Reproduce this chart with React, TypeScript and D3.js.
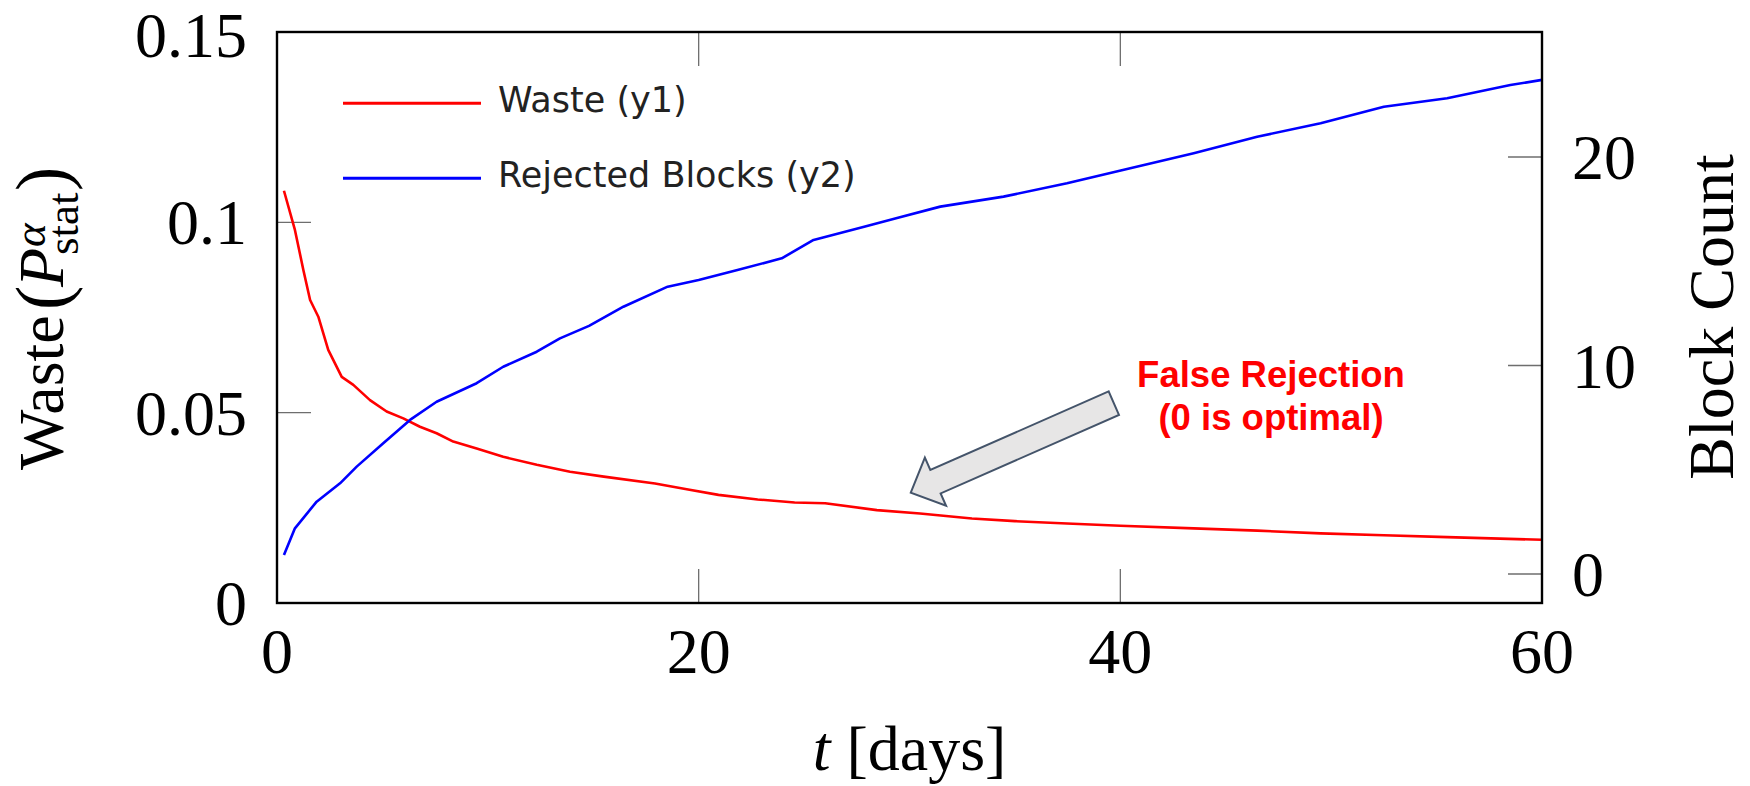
import { scaleLinear, line } from "d3";

const width = 1750;
const height = 786;
const margin = { left: 277, right: 208, top: 32, bottom: 183 };

// Waste (left axis)
const wasteDays = [
  0.33, 0.85, 1.25, 1.57, 1.96, 2.43, 3.07, 3.62, 4.41, 5.2, 5.99, 6.78, 7.57,
  8.36, 9.47, 10.73, 12.32, 13.9, 15.5, 17.93, 19.5, 20.94, 22.8, 24.55, 26,
  28.45, 30.5, 32.96, 35, 37.47, 40, 43.48, 46.5, 49.5, 52.5, 55.5, 58, 60,
];
const wasteValues = [
  0.1083, 0.098, 0.0875, 0.0796, 0.0752, 0.0665, 0.0594, 0.0573, 0.0533,
  0.0503, 0.0485, 0.0463, 0.0446, 0.0424, 0.0406, 0.0384, 0.0363, 0.0345,
  0.0332, 0.0314, 0.0298, 0.0284, 0.0272, 0.0264, 0.0262, 0.0244, 0.0235,
  0.0222, 0.0215, 0.0209, 0.0203, 0.0196, 0.019, 0.0183, 0.0178, 0.0173,
  0.0169, 0.0166,
];

// Rejected blocks (right axis)
const blockDays = [
  0.33, 0.85, 1.88, 2.99, 3.78, 5.04, 6.31, 7.57, 9.47, 10.73, 12.32, 13.42,
  14.8, 16.43, 18.53, 20, 21.84, 23.94, 25.45, 27.85, 29.5, 31.46, 34.46,
  37.47, 40.47, 43.48, 46.49, 49.5, 52.5, 55.5, 58.5, 60,
];
const blockValues = [
  0.91, 2.19, 3.47, 4.35, 5.15, 6.27, 7.39, 8.26, 9.15, 9.94, 10.66, 11.3,
  11.9, 12.82, 13.78, 14.1, 14.58, 15.14, 16.02, 16.66, 17.1, 17.62, 18.1,
  18.74, 19.46, 20.18, 20.97, 21.62, 22.41, 22.82, 23.45, 23.7,
];

const xTicks = [0, 20, 40, 60];
const xTickLabels = ["0", "20", "40", "60"];
const leftTicks = [0, 0.05, 0.1, 0.15];
const leftTickLabels = ["0", "0.05", "0.1", "0.15"];
const rightTicks = [0, 10, 20];
const rightTickLabels = ["0", "10", "20"];

const legendLabels = ["Waste (y1)", "Rejected Blocks (y2)"];
const seriesColors = ["#ff0000", "#0000ff"];

// arrow annotation, in (days, waste) coordinates
const arrowTail = [39.69, 0.0525];
const arrowTip = [30.06, 0.029];
const noteLines = ["False Rejection", "(0 is optimal)"];

const serif = "'Liberation Serif', 'Times New Roman', serif";
const sans = "'DejaVu Sans', sans-serif";

const App = () => {
  const plotW = width - margin.left - margin.right;
  const plotH = height - margin.top - margin.bottom;
  const x = scaleLinear().domain([0, 60]).range([margin.left, margin.left + plotW]);
  const yL = scaleLinear().domain([0, 0.15]).range([margin.top + plotH, margin.top]);
  const yR = scaleLinear().domain([0, 20]).range([574, 157]);

  const wasteLine = line<number>()
    .x((d, i) => x(wasteDays[i]))
    .y((d) => yL(d));
  const blockLine = line<number>()
    .x((d, i) => x(blockDays[i]))
    .y((d) => yR(d));

  // block arrow
  const tx = x(arrowTail[0]);
  const ty = yL(arrowTail[1]);
  const px = x(arrowTip[0]);
  const py = yL(arrowTip[1]);
  const len = Math.hypot(px - tx, py - ty);
  const ux = (px - tx) / len;
  const uy = (py - ty) / len;
  const nx = -uy;
  const ny = ux;
  const shaftW = 12.8;
  const headW = 26.3;
  const headL = 27;
  const bx = px - ux * headL;
  const by = py - uy * headL;
  const arrowPts = [
    [tx + nx * shaftW, ty + ny * shaftW],
    [bx + nx * shaftW, by + ny * shaftW],
    [bx + nx * headW, by + ny * headW],
    [px, py],
    [bx - nx * headW, by - ny * headW],
    [bx - nx * shaftW, by - ny * shaftW],
    [tx - nx * shaftW, ty - ny * shaftW],
  ]
    .map((p) => p.join(","))
    .join(" ");

  const tickColor = "#6e6e6e";
  const tickLen = 34;

  return (
    <svg
      width={width}
      height={height}
      style={{ position: "absolute", left: 0, top: 0, background: "#fff" }}
    >
      {/* x ticks, top and bottom */}
      {xTicks.map((t) => (
        <g key={"xt" + t}>
          <line x1={x(t)} x2={x(t)} y1={margin.top} y2={margin.top + tickLen} stroke={tickColor} strokeWidth={1.3} />
          <line x1={x(t)} x2={x(t)} y1={margin.top + plotH} y2={margin.top + plotH - tickLen} stroke={tickColor} strokeWidth={1.3} />
        </g>
      ))}
      {leftTicks.map((t) => (
        <line key={"lt" + t} x1={margin.left} x2={margin.left + tickLen} y1={yL(t)} y2={yL(t)} stroke={tickColor} strokeWidth={1.3} />
      ))}
      {rightTicks.map((t) => (
        <line key={"rt" + t} x1={margin.left + plotW} x2={margin.left + plotW - tickLen} y1={yR(t)} y2={yR(t)} stroke={tickColor} strokeWidth={1.3} />
      ))}

      <path d={wasteLine(wasteValues) || ""} fill="none" stroke={seriesColors[0]} strokeWidth={2.6} strokeLinejoin="round" />
      <path d={blockLine(blockValues) || ""} fill="none" stroke={seriesColors[1]} strokeWidth={2.6} strokeLinejoin="round" />

      <rect x={margin.left} y={margin.top} width={plotW} height={plotH} fill="none" stroke="#000" strokeWidth={2.4} />

      {/* tick labels */}
      {xTicks.map((t, i) => (
        <text key={"xl" + t} x={x(t)} y={673} textAnchor="middle" fontFamily={serif} fontSize={64}>
          {xTickLabels[i]}
        </text>
      ))}
      {leftTicks.map((t, i) => (
        <text
          key={"ll" + t}
          x={247}
          y={Math.max(yL(t) + 22, 57)}
          textAnchor="end"
          fontFamily={serif}
          fontSize={64}
        >
          {leftTickLabels[i]}
        </text>
      ))}
      {rightTicks.map((t, i) => (
        <text key={"rl" + t} x={1572} y={yR(t) + 22} textAnchor="start" fontFamily={serif} fontSize={64}>
          {rightTickLabels[i]}
        </text>
      ))}

      {/* axis titles */}
      <text x={x(30)} y={770} textAnchor="middle" fontFamily={serif} fontSize={64}>
        <tspan fontStyle="italic">t</tspan> [days]
      </text>
      <g transform="translate(63,470) rotate(-90)" fontFamily={serif}>
        <text x={0} y={0} fontSize={64}>Waste</text>
        <text x={160} y={4} fontSize={73}>(</text>
        <text x={183} y={0} fontSize={64} fontStyle="italic">P</text>
        <text x={223} y={-18} fontSize={45} fontStyle="italic">α</text>
        <text x={215} y={15} fontSize={45}>stat</text>
        <text x={279} y={4} fontSize={73}>)</text>
      </g>
      <text
        transform="translate(1733,317) rotate(-90)"
        textAnchor="middle"
        fontFamily={serif}
        fontSize={64}
      >
        Block Count
      </text>

      {/* legend */}
      {legendLabels.map((label, i) => (
        <g key={label} transform={`translate(0,${103.3 + i * 75})`}>
          <line x1={343} x2={481} y1={0} y2={0} stroke={seriesColors[i]} strokeWidth={3} />
          <text x={498} y={9} fontFamily={sans} fontSize={35} fill="#222">
            {label}
          </text>
        </g>
      ))}

      {/* annotation */}
      <polygon points={arrowPts} fill="#e7e6e6" stroke="#44546a" strokeWidth={2} strokeLinejoin="miter" />
      {noteLines.map((s, i) => (
        <text
          key={s}
          x={1271}
          y={387 + i * 43}
          textAnchor="middle"
          fontFamily="'Liberation Sans', Arial, sans-serif"
          fontWeight="bold"
          fontSize={36.5}
          fill="#ff0000"
        >
          {s}
        </text>
      ))}
    </svg>
  );
};

export default App;
